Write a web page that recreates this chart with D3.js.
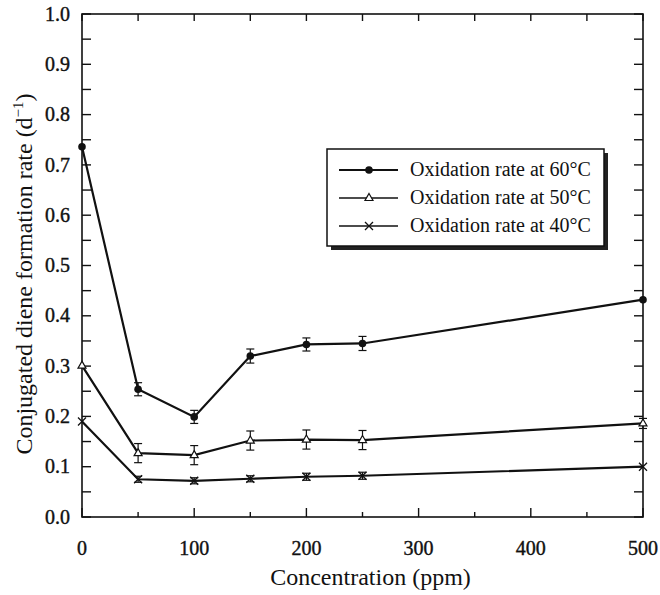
<!DOCTYPE html>
<html>
<head>
<meta charset="utf-8">
<script src="https://cdn.jsdelivr.net/npm/d3@7"></script>
<style>
  body { margin: 0; background: #fff; }
</style>
</head>
<body>
<div class="graph"></div>
<script>
// data
var concentrations = [0, 50, 100, 150, 200, 250, 500];
var rate60 = [0.736, 0.254, 0.199, 0.320, 0.343, 0.345, 0.432];
var err60 = [0, 0.013, 0.013, 0.014, 0.013, 0.014, 0];
var rate50 = [0.301, 0.127, 0.123, 0.152, 0.154, 0.153, 0.186];
var err50 = [0, 0.019, 0.019, 0.019, 0.019, 0.019, 0.01];
var rate40 = [0.190, 0.075, 0.072, 0.076, 0.080, 0.082, 0.100];
var err40 = [0, 0.006, 0.006, 0.006, 0.007, 0.007, 0];
var seriesNames = ["Oxidation rate at 60°C", "Oxidation rate at 50°C", "Oxidation rate at 40°C"];
var xTicks = [0, 100, 200, 300, 400, 500];
var yTicks = [0, 0.1, 0.2, 0.3, 0.4, 0.5, 0.6, 0.7, 0.8, 0.9, 1.0];

var width = 660, height = 595;
var margin = {top: 14, right: 17, bottom: 78, left: 82};
var serif = "'Times New Roman'";

var svg = d3.select(".graph").append("svg")
    .attr("width", width)
    .attr("height", height);

var x = d3.scaleLinear().domain([0, 500]).range([margin.left, width - margin.right]);
var y = d3.scaleLinear().domain([0, 1]).range([height - margin.bottom, margin.top]);

var series = [
  {name: seriesNames[0], values: rate60, errs: err60, marker: "dot"},
  {name: seriesNames[1], values: rate50, errs: err50, marker: "tri"},
  {name: seriesNames[2], values: rate40, errs: err40, marker: "cross"}
];

// frame
svg.append("rect")
    .attr("x", x(0)).attr("y", y(1))
    .attr("width", x(500) - x(0)).attr("height", y(0) - y(1))
    .attr("fill", "none").attr("stroke", "#111").attr("stroke-width", 1.6);

// ticks (all inward)
var ax = svg.append("g").attr("stroke", "#111").attr("stroke-width", 1.4);
d3.range(0, 501, 50).forEach(function(v) {
  var len = v % 100 == 0 ? 9 : 5;
  ax.append("line").attr("x1", x(v)).attr("x2", x(v)).attr("y1", y(0)).attr("y2", y(0) - len);
  ax.append("line").attr("x1", x(v)).attr("x2", x(v)).attr("y1", y(1)).attr("y2", y(1) + 7);
});
d3.range(0, 21).forEach(function(i) {
  var v = i * 0.05;
  ax.append("line").attr("x1", x(0)).attr("x2", x(0) + 9).attr("y1", y(v)).attr("y2", y(v));
  ax.append("line").attr("x1", x(500)).attr("x2", x(500) - 9).attr("y1", y(v)).attr("y2", y(v));
});

// tick labels
svg.selectAll(".xlab").data(xTicks).enter().append("text")
    .style("font-family", serif)
    .attr("x", function(d) { return x(d); })
    .attr("y", y(0) + 38)
    .attr("text-anchor", "middle")
    .attr("font-size", 20)
    .attr("fill", "#111")
    .attr("stroke", "#111").attr("stroke-width", 0.4)
    .text(function(d) { return d; });

svg.selectAll(".ylab").data(yTicks).enter().append("text")
    .style("font-family", serif)
    .attr("x", x(0) - 12)
    .attr("y", function(d) { return y(d); })
    .attr("dy", "0.33em")
    .attr("text-anchor", "end")
    .attr("font-size", 20)
    .attr("fill", "#111")
    .attr("stroke", "#111").attr("stroke-width", 0.4)
    .text(function(d) { return d.toFixed(1); });

// axis titles
svg.append("text")
    .style("font-family", serif)
    .attr("x", (x(0) + x(500)) / 2 + 8)
    .attr("y", 585)
    .attr("text-anchor", "middle")
    .attr("font-size", 24)
    .attr("fill", "#111")
    .text("Concentration (ppm)");

var yt = svg.append("text")
    .style("font-family", serif)
    .attr("transform", "translate(32,274) rotate(-90)")
    .attr("text-anchor", "middle")
    .attr("font-size", 24)
    .attr("fill", "#111");
yt.append("tspan").text("Conjugated diene formation rate (d");
yt.append("tspan").attr("dy", -9).attr("font-size", 15).text("−1");
yt.append("tspan").attr("dy", 9).text(")");

// lines
var line = d3.line()
    .x(function(d, i) { return x(concentrations[i]); })
    .y(function(d) { return y(d); });

function drawMarker(g, kind, cx, cy) {
  if (kind == "dot") {
    g.append("circle").attr("cx", cx).attr("cy", cy).attr("r", 3.8).attr("fill", "#111");
  } else if (kind == "tri") {
    g.append("path")
      .attr("d", "M" + cx + "," + (cy - 4.5) + "L" + (cx + 4) + "," + (cy + 2.5) + "L" + (cx - 4) + "," + (cy + 2.5) + "Z")
      .attr("fill", "#fff").attr("stroke", "#111").attr("stroke-width", 1.2);
  } else {
    g.append("path")
      .attr("d", "M" + (cx - 4) + "," + (cy - 4) + "L" + (cx + 4) + "," + (cy + 4) + "M" + (cx - 4) + "," + (cy + 4) + "L" + (cx + 4) + "," + (cy - 4))
      .attr("stroke", "#111").attr("stroke-width", 1.3);
  }
}

series.forEach(function(s) {
  var g = svg.append("g");
  g.append("path")
    .attr("d", line(s.values))
    .attr("fill", "none").attr("stroke", "#111").attr("stroke-width", 2.2);
  s.values.forEach(function(v, i) {
    var cx = x(concentrations[i]);
    var e = s.errs[i];
    if (e > 0) {
      g.append("line").attr("x1", cx).attr("x2", cx).attr("y1", y(v - e)).attr("y2", y(v + e))
        .attr("stroke", "#111").attr("stroke-width", 1.2);
      [v - e, v + e].forEach(function(w) {
        g.append("line").attr("x1", cx - 4).attr("x2", cx + 4).attr("y1", y(w)).attr("y2", y(w))
          .attr("stroke", "#111").attr("stroke-width", 1.2);
      });
    }
    drawMarker(g, s.marker, cx, y(v));
  });
});

// legend
var lg = svg.append("g").attr("transform", "translate(327,149)");
lg.append("rect").attr("x", 4).attr("y", 4).attr("width", 277).attr("height", 97).attr("fill", "#222");
lg.append("rect").attr("x", 0).attr("y", 0).attr("width", 277).attr("height", 97)
    .attr("fill", "#fff").attr("stroke", "#111").attr("stroke-width", 1.5);
series.forEach(function(s, i) {
  var ly = 21 + i * 28;
  lg.append("line").attr("x1", 12).attr("x2", 71).attr("y1", ly).attr("y2", ly)
    .attr("stroke", "#111").attr("stroke-width", i == 0 ? 2.2 : 1.6);
  drawMarker(lg, s.marker, 42, ly);
  lg.append("text").style("font-family", serif)
    .attr("x", 83).attr("y", ly).attr("dy", "0.3em")
    .attr("font-size", 20).attr("fill", "#111")
    .text(s.name);
});
</script>
</body>
</html>
